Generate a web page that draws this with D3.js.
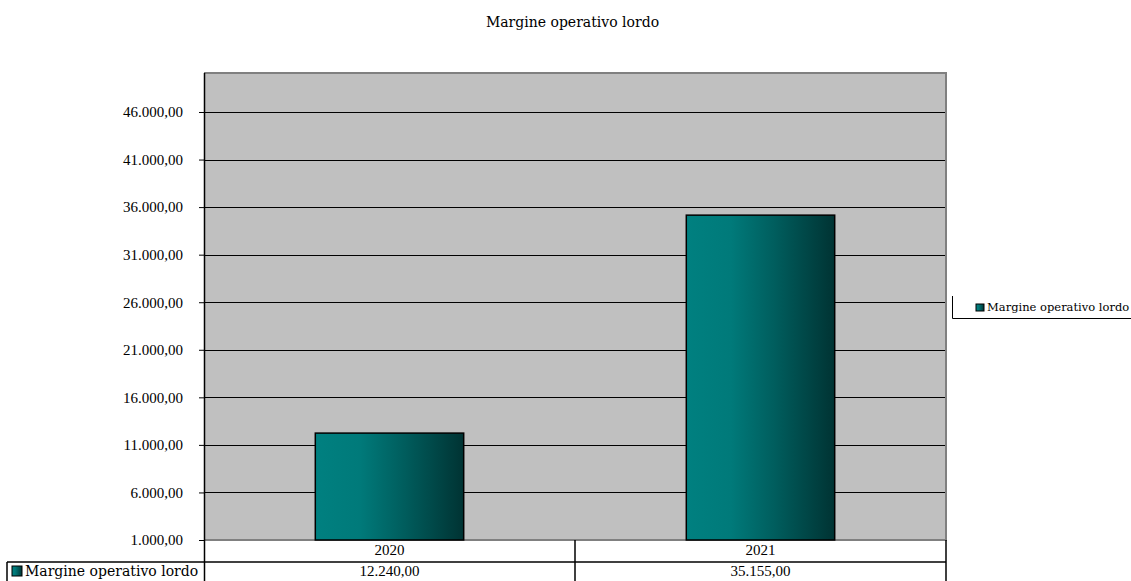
<!DOCTYPE html>
<html><head><meta charset="utf-8">
<script src="https://cdn.jsdelivr.net/npm/d3@7/dist/d3.min.js"></script>
<style>html,body{margin:0;padding:0;background:#fff;}svg{display:block;}</style>
</head><body>
<script>
const title = "Margine operativo lordo";
const categories = ["2020", "2021"];
const seriesName = "Margine operativo lordo";
const values = [12240, 35155];
const tickValues = [1000, 6000, 11000, 16000, 21000, 26000, 31000, 36000, 41000, 46000];
const yDomain = [1000, 50100];

const W = 1131, H = 581;
const plot = {l: 204, r: 946, t: 73, b: 540};
const loc = d3.formatLocale({decimal: ",", thousands: ".", grouping: [3], currency: ["", "€"]});
const fmt = loc.format(",.2f");
const serif = "'DejaVu Serif', serif";
const numFont = "'Liberation Serif', serif";

const svg = d3.select("body").append("svg").attr("width", W).attr("height", H);
const defs = svg.append("defs");
const grad = defs.append("linearGradient").attr("id", "barGrad").attr("x1", "0").attr("x2", "1").attr("y1", "0").attr("y2", "0");
[[0, "#008080"], [0.3, "#007a7a"], [0.6, "#005d5d"], [1, "#003333"]].forEach(s => grad.append("stop").attr("offset", s[0]).attr("stop-color", s[1]));

const x = d3.scaleBand().domain(categories).range([plot.l, plot.r]).padding(0);
const y = d3.scaleLinear().domain(yDomain).range([plot.b, plot.t]);

// title
svg.append("text").attr("x", 572.5).attr("y", 27).attr("text-anchor", "middle")
  .attr("font-family", serif).attr("font-size", 14).attr("fill", "#000").text(title);

// plot background
svg.append("rect").attr("x", plot.l).attr("y", plot.t).attr("width", plot.r - plot.l).attr("height", plot.b - plot.t).attr("fill", "#c0c0c0");

// gridlines
svg.append("g").selectAll("line").data(tickValues.filter(v => v > yDomain[0])).join("line")
  .attr("x1", plot.l).attr("x2", plot.r).attr("y1", d => Math.round(y(d)) + 0.5).attr("y2", d => Math.round(y(d)) + 0.5)
  .attr("stroke", "#000").attr("stroke-width", 1);

// plot border (gray)
svg.append("path").attr("d", `M${plot.l},${plot.t} H${plot.r} V${plot.b} H${plot.l}`)
  .attr("fill", "none").attr("stroke", "#808080").attr("stroke-width", 2);

// bars
const bw = x.bandwidth() * 0.4;
svg.append("g").selectAll("rect").data(values).join("rect")
  .attr("x", (d, i) => x(categories[i]) + (x.bandwidth() - bw) / 2)
  .attr("width", bw)
  .attr("y", d => y(d))
  .attr("height", d => y(yDomain[0]) - y(d))
  .attr("fill", "url(#barGrad)").attr("stroke", "#000").attr("stroke-width", 1.5);

// y axis
const yAxis = d3.axisLeft(y).tickValues(tickValues).tickFormat(fmt).tickSize(5).tickPadding(16);
const ga = svg.append("g").attr("transform", `translate(${plot.l},0)`).call(yAxis);
ga.select(".domain").remove();
ga.selectAll(".tick line").attr("stroke", "#000");
ga.selectAll(".tick text").attr("font-family", numFont).attr("font-size", 15).attr("fill", "#000");
svg.append("line").attr("x1", plot.l + 0.5).attr("x2", plot.l + 0.5).attr("y1", plot.t).attr("y2", H).attr("stroke", "#000").attr("stroke-width", 1.5);

// data table
const rowSep = 562;
const tbl = svg.append("g");
tbl.append("line").attr("x1", 7).attr("x2", plot.r).attr("y1", rowSep).attr("y2", rowSep).attr("stroke", "#000").attr("stroke-width", 1.5);
tbl.append("line").attr("x1", 7).attr("x2", 7).attr("y1", rowSep).attr("y2", H).attr("stroke", "#000").attr("stroke-width", 1.5);
tbl.selectAll("line.v").data(categories).join("line").attr("class", "v")
  .attr("x1", d => x(d) + x.bandwidth()).attr("x2", d => x(d) + x.bandwidth())
  .attr("y1", plot.b).attr("y2", H).attr("stroke", "#000").attr("stroke-width", 1.5);
tbl.selectAll("text.cat").data(categories).join("text").attr("class", "cat")
  .attr("x", d => x(d) + x.bandwidth() / 2).attr("y", 555).attr("text-anchor", "middle")
  .attr("font-family", numFont).attr("font-size", 15).attr("fill", "#000").text(d => d);
tbl.selectAll("text.val").data(values).join("text").attr("class", "val")
  .attr("x", (d, i) => x(categories[i]) + x.bandwidth() / 2).attr("y", 576).attr("text-anchor", "middle")
  .attr("font-family", numFont).attr("font-size", 15).attr("fill", "#000").text(d => fmt(d));
tbl.append("rect").attr("x", 12).attr("y", 566).attr("width", 10).attr("height", 10)
  .attr("fill", "url(#barGrad)").attr("stroke", "#000").attr("stroke-width", 1);
tbl.append("text").attr("x", 25).attr("y", 576).attr("font-family", serif).attr("font-size", 14).attr("fill", "#000").text(seriesName);

// legend
const lg = svg.append("g");
lg.append("path").attr("d", "M952.5,296 V318.5 H1131").attr("fill", "none").attr("stroke", "#000").attr("stroke-width", 1);
lg.append("rect").attr("x", 976).attr("y", 304).attr("width", 8).attr("height", 7)
  .attr("fill", "url(#barGrad)").attr("stroke", "#000").attr("stroke-width", 1);
lg.append("text").attr("x", 987).attr("y", 311).attr("font-family", serif).attr("font-size", 11.5).attr("fill", "#000").text(seriesName);
</script>
</body></html>
